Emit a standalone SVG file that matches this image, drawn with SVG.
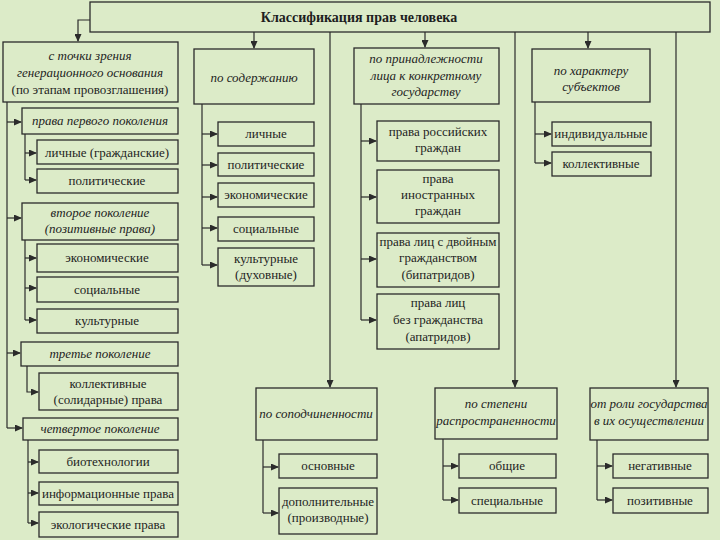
<svg xmlns="http://www.w3.org/2000/svg" width="720" height="540" viewBox="0 0 720 540">
<style>
.bx{fill:#dcebc8;stroke:#2b2b2b;stroke-width:1.3}
.c{fill:none;stroke:#2b2b2b;stroke-width:1.2}
.a{marker-end:url(#ah)}
text{font-family:"Liberation Serif","DejaVu Serif",serif;font-size:13px;fill:#1e1e1e;text-anchor:middle}
.i{font-style:italic}
.t{font-weight:bold;font-size:14px}
</style>
<defs>
<marker id="ah" markerWidth="8" markerHeight="7" refX="7" refY="3.5" orient="auto" markerUnits="userSpaceOnUse">
<path d="M0,0 L8,3.5 L0,7 z" fill="#2b2b2b"/>
</marker>
</defs>
<rect width="720" height="540" fill="#dcebc8"/>

<g id="connectors">
<path class="c a" d="M90,20 H78 V41"/>
<path class="c a" d="M254,32 V48"/>
<path class="c a" d="M425,32 V47"/>
<path class="c a" d="M588,32 V48"/>
<path class="c a" d="M330,32 V387"/>
<path class="c a" d="M515,32 V387"/>
<path class="c a" d="M676,32 V387"/>
<!-- left trunk -->
<path class="c" d="M7,102 V428"/>
<path class="c a" d="M7,122 H21"/>
<path class="c a" d="M7,218 H21"/>
<path class="c a" d="M7,353 H20"/>
<path class="c a" d="M7,428 H22"/>
<path class="c" d="M25,134 V180"/>
<path class="c a" d="M25,153 H36"/>
<path class="c a" d="M25,180 H36"/>
<path class="c" d="M25,240 V320"/>
<path class="c a" d="M25,258 H36"/>
<path class="c a" d="M25,288 H36"/>
<path class="c a" d="M25,320 H36"/>
<path class="c a" d="M27,366 V392 H38"/>
<path class="c" d="M28,440 V523"/>
<path class="c a" d="M28,462 H38"/>
<path class="c a" d="M28,493 H38"/>
<path class="c a" d="M28,523 H38"/>
<!-- content -->
<path class="c" d="M202,104 V265"/>
<path class="c a" d="M202,134 H217"/>
<path class="c a" d="M202,165 H217"/>
<path class="c a" d="M202,197 H217"/>
<path class="c a" d="M202,228 H217"/>
<path class="c a" d="M202,265 H217"/>
<!-- membership -->
<path class="c" d="M361,104 V320"/>
<path class="c a" d="M361,141 H376"/>
<path class="c a" d="M361,197 H376"/>
<path class="c a" d="M361,259 H376"/>
<path class="c a" d="M361,320 H376"/>
<!-- subjects -->
<path class="c" d="M535,102 V163"/>
<path class="c a" d="M535,134 H551"/>
<path class="c a" d="M535,163 H551"/>
<!-- bottom -->
<path class="c" d="M263,440 V513"/>
<path class="c a" d="M263,467 H278"/>
<path class="c a" d="M263,513 H278"/>
<path class="c" d="M443,439 V500"/>
<path class="c a" d="M443,466 H458"/>
<path class="c a" d="M443,500 H458"/>
<path class="c" d="M597,440 V500"/>
<path class="c a" d="M597,466 H612"/>
<path class="c a" d="M597,500 H612"/>
</g>

<g id="root"><rect class="bx" x="90" y="2" width="620" height="30"/><text class="t" x="359" y="22">Классификация прав человека</text></g>

<g id="gen"><rect class="bx" x="3" y="42" width="175" height="60"/><text class="i" x="90" y="60">с точки зрения</text><text class="i" x="90" y="77">генерационного основания</text><text x="90" y="94">(по этапам провозглашения)</text></g>
<g id="gen1"><rect class="bx" x="22" y="108" width="156" height="26"/><text class="i" x="100" y="125">права первого поколения</text></g>
<g id="gen1a"><rect class="bx" x="37" y="140" width="141" height="24"/><text x="107" y="157">личные (гражданские)</text></g>
<g id="gen1b"><rect class="bx" x="37" y="169" width="141" height="24"/><text x="107" y="185">политические</text></g>
<g id="gen2"><rect class="bx" x="22" y="203" width="156" height="37"/><text class="i" x="100" y="217">второе поколение</text><text class="i" x="100" y="233">(позитивные права)</text></g>
<g id="gen2a"><rect class="bx" x="37" y="244" width="141" height="28"/><text x="107" y="262">экономические</text></g>
<g id="gen2b"><rect class="bx" x="37" y="277" width="141" height="25"/><text x="107" y="294">социальные</text></g>
<g id="gen2c"><rect class="bx" x="37" y="309" width="141" height="24"/><text x="107" y="325">культурные</text></g>
<g id="gen3"><rect class="bx" x="21" y="342" width="157" height="24"/><text class="i" x="100" y="358">третье поколение</text></g>
<g id="gen3a"><rect class="bx" x="39" y="373" width="139" height="37"/><text x="108" y="388">коллективные</text><text x="108" y="404">(солидарные) права</text></g>
<g id="gen4"><rect class="bx" x="23" y="418" width="155" height="22"/><text class="i" x="100" y="433">четвертое поколение</text></g>
<g id="gen4a"><rect class="bx" x="39" y="450" width="139" height="23"/><text x="108" y="466">биотехнологии</text></g>
<g id="gen4b"><rect class="bx" x="39" y="482" width="139" height="23"/><text x="108" y="498">информационные права</text></g>
<g id="gen4c"><rect class="bx" x="39" y="512" width="139" height="25"/><text x="108" y="529">экологические права</text></g>

<g id="cont"><rect class="bx" x="194" y="49" width="120" height="55"/><text class="i" x="254" y="82">по содержанию</text></g>
<g id="cont1"><rect class="bx" x="218" y="122" width="96" height="24"/><text x="266" y="138">личные</text></g>
<g id="cont2"><rect class="bx" x="218" y="153" width="96" height="23"/><text x="266" y="169">политические</text></g>
<g id="cont3"><rect class="bx" x="218" y="183" width="96" height="24"/><text x="266" y="199">экономические</text></g>
<g id="cont4"><rect class="bx" x="218" y="217" width="96" height="24"/><text x="266" y="233">социальные</text></g>
<g id="cont5"><rect class="bx" x="218" y="248" width="96" height="38"/><text x="266" y="263">культурные</text><text x="266" y="279">(духовные)</text></g>

<g id="memb"><rect class="bx" x="354" y="48" width="145" height="56"/><text class="i" x="426" y="63">по принадлежности</text><text class="i" x="426" y="80">лица к конкретному</text><text class="i" x="426" y="96">государству</text></g>
<g id="memb1"><rect class="bx" x="377" y="121" width="122" height="40"/><text x="438" y="136">права российских</text><text x="438" y="152">граждан</text></g>
<g id="memb2"><rect class="bx" x="377" y="170" width="122" height="53"/><text x="438" y="183">права</text><text x="438" y="199">иностранных</text><text x="438" y="215">граждан</text></g>
<g id="memb3"><rect class="bx" x="377" y="233" width="122" height="54"/><text x="438" y="246">права лиц с двойным</text><text x="438" y="262">гражданством</text><text x="438" y="279">(бипатридов)</text></g>
<g id="memb4"><rect class="bx" x="377" y="294" width="122" height="55"/><text x="438" y="307">права лиц</text><text x="438" y="324">без гражданства</text><text x="438" y="341">(апатридов)</text></g>

<g id="subj"><rect class="bx" x="532" y="49" width="118" height="53"/><text class="i" x="591" y="75">по характеру</text><text class="i" x="591" y="91">субъектов</text></g>
<g id="subj1"><rect class="bx" x="552" y="122" width="99" height="24"/><text x="601" y="138">индивидуальные</text></g>
<g id="subj2"><rect class="bx" x="552" y="152" width="99" height="24"/><text x="601" y="168">коллективные</text></g>

<g id="sub"><rect class="bx" x="256" y="388" width="121" height="52"/><text class="i" x="316" y="418">по соподчиненности</text></g>
<g id="sub1"><rect class="bx" x="279" y="454" width="98" height="24"/><text x="328" y="470">основные</text></g>
<g id="sub2"><rect class="bx" x="279" y="488" width="98" height="46"/><text x="328" y="506">дополнительные</text><text x="328" y="522">(производные)</text></g>

<g id="spread"><rect class="bx" x="435" y="388" width="122" height="51"/><text class="i" x="496" y="408">по степени</text><text class="i" x="496" y="425">распространенности</text></g>
<g id="spread1"><rect class="bx" x="459" y="454" width="97" height="24"/><text x="507" y="470">общие</text></g>
<g id="spread2"><rect class="bx" x="459" y="488" width="97" height="25"/><text x="507" y="505">специальные</text></g>

<g id="state"><rect class="bx" x="590" y="388" width="118" height="52"/><text class="i" x="649" y="408">от роли государства</text><text class="i" x="649" y="425">в их осуществлении</text></g>
<g id="state1"><rect class="bx" x="613" y="454" width="95" height="24"/><text x="660" y="470">негативные</text></g>
<g id="state2"><rect class="bx" x="613" y="488" width="95" height="25"/><text x="660" y="505">позитивные</text></g>
</svg>
